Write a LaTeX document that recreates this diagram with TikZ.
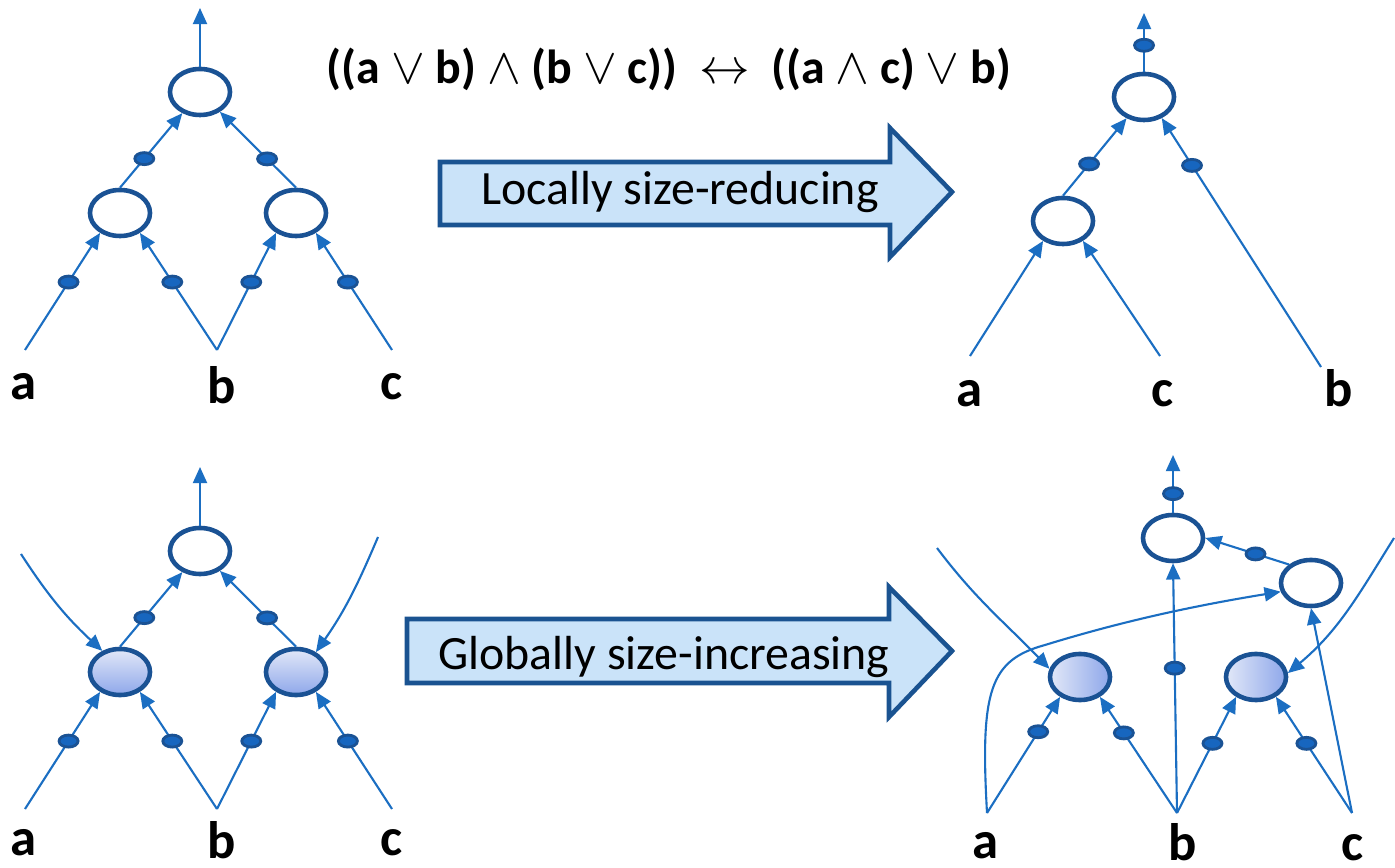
\documentclass[tikz,border=0pt]{standalone}
\usepackage{fontspec}
\setmainfont{Carlito}
\usepackage{tikz}
\usetikzlibrary{shapes.geometric,arrows.meta}
\definecolor{WireBlue}{HTML}{1B6EC2}
\definecolor{GateRim}{HTML}{1A5294}
\definecolor{DotBlue}{HTML}{1766BF}
\definecolor{BoxFill}{HTML}{CAE3F9}
\definecolor{BoxRim}{HTML}{1A5391}
\definecolor{ShadeLo}{HTML}{8EA7EA}
\definecolor{ShadeHi}{HTML}{E2E8F8}

\begin{document}
\begin{tikzpicture}[x=0.01cm,y=-0.01cm,>={Triangle[length=4.6pt,width=4pt]}]
  \tikzstyle{gate}=[ellipse,draw=GateRim,line width=1.3pt,fill=white,
    minimum width=6mm,minimum height=4.6mm,inner sep=0pt]
  \tikzstyle{vgate}=[gate,top color=ShadeHi,bottom color=ShadeLo]
  \tikzstyle{hgate}=[gate,left color=ShadeHi,right color=ShadeLo]
  \tikzstyle{bead}=[ellipse,draw=GateRim,line width=0.8pt,fill=DotBlue,
    minimum width=1.9mm,minimum height=1.2mm,inner sep=0pt]
  \tikzstyle{wire}=[->,color=WireBlue,line width=0.6pt]
  \tikzstyle{varlabel}=[font=\fontsize{15}{18}\selectfont\bfseries,anchor=base,inner sep=0pt]
  \tikzstyle{bigarrow}=[draw=BoxRim,fill=BoxFill,line width=1.3pt]
  \tikzstyle{arrowtext}=[font=\fontsize{13.6}{16}\selectfont,anchor=base,inner sep=0pt]
  \useasboundingbox (0,0) rectangle (1395,868);

  % equivalence
  \node[font=\fontsize{13.6}{16}\selectfont\bfseries,anchor=base] (law) at (669,84)
    {((a $\vee$ b) $\wedge$ (b $\vee$ c))~ $\leftrightarrow$~ ((a $\wedge$ c) $\vee$ b)};

  % top left
  \node[gate] (t1) at (200,92) {};
  \node[gate] (l1) at (120,213) {};
  \node[gate] (r1) at (296,213) {};
  \coordinate (o1) at (200,8);
  \coordinate (a1) at (25,350);
  \coordinate (b1) at (217,350);
  \coordinate (c1) at (392,350);
  \draw[wire] (t1.north) -- (o1);
  \draw[wire] (l1.north) -- node[bead,pos=0.39]{} (t1);
  \draw[wire] (r1.north) -- node[bead,pos=0.38]{} (t1);
  \draw[wire] (a1) -- node[bead,pos=0.58]{} (l1.225);
  \draw[wire] (b1) -- node[bead,pos=0.58]{} (l1.-45);
  \draw[wire] (b1) -- node[bead,pos=0.58]{} (r1.225);
  \draw[wire] (c1) -- node[bead,pos=0.58]{} (r1.-45);
  \node[varlabel] (la1) at (24,400) {a};
  \node[varlabel] (lb1) at (222,404) {b};
  \node[varlabel] (lc1) at (392,400) {c};

  % top right
  \node[gate] (t2) at (1144,97) {};
  \node[gate] (l2) at (1063,221) {};
  \coordinate (o2) at (1144,13);
  \coordinate (a2) at (970,356);
  \coordinate (c2) at (1160,356);
  \coordinate (b2) at (1321,367);
  \draw[wire] (t2.north) -- node[bead,pos=0.45]{} (o2);
  \draw[wire] (l2.north) -- node[bead,pos=0.41]{} (t2);
  \draw[wire] (b2) -- node[bead,pos=0.81]{} (t2.-50);
  \draw[wire] (a2) -- (l2.225);
  \draw[wire] (c2) -- (l2.-45);
  \node[varlabel] (la2) at (969,407) {a};
  \node[varlabel] (lc2) at (1163,407) {c};
  \node[varlabel] (lb2) at (1339,407) {b};

  % bottom left
  \node[gate] (t3) at (200,551) {};
  \node[vgate] (l3) at (120,672) {};
  \node[vgate] (r3) at (296,672) {};
  \coordinate (o3) at (200,467);
  \coordinate (a3) at (25,809);
  \coordinate (b3) at (217,809);
  \coordinate (c3) at (392,809);
  \coordinate (s3l) at (21,554);
  \coordinate (s3r) at (378,537);
  \draw[wire] (t3.north) -- (o3);
  \draw[wire] (l3.north) -- node[bead,pos=0.39]{} (t3);
  \draw[wire] (r3.north) -- node[bead,pos=0.38]{} (t3);
  \draw[wire] (a3) -- node[bead,pos=0.58]{} (l3.225);
  \draw[wire] (b3) -- node[bead,pos=0.58]{} (l3.-45);
  \draw[wire] (b3) -- node[bead,pos=0.58]{} (r3.225);
  \draw[wire] (c3) -- node[bead,pos=0.58]{} (r3.-45);
  \draw[wire] (s3l) to[out=-57,in=137] (l3.130);
  \draw[wire] (s3r) to[out=-113,in=55] (r3.45);
  \node[varlabel] (la3) at (24,855) {a};
  \node[varlabel] (lb3) at (222,858) {b};
  \node[varlabel] (lc3) at (392,855) {c};

  % bottom right
  \node[gate] (t4) at (1173,538) {};
  \node[gate] (r4) at (1311,583) {};
  \node[hgate] (l4) at (1080,677) {};
  \node[hgate] (m4) at (1256,677) {};
  \coordinate (o4) at (1173,455);
  \coordinate (a4) at (987,813);
  \coordinate (b4) at (1177,813);
  \coordinate (c4) at (1352,813);
  \coordinate (bend4) at (1045,645);
  \coordinate (s4l) at (937,548);
  \coordinate (s4r) at (1394,538);
  \draw[wire] (t4.north) -- node[bead,pos=0.33]{} (o4);
  \draw[wire] (r4.140) -- node[bead,pos=0.4]{} (t4.east);
  \draw[wire] (a4) -- node[bead,pos=0.7]{} (l4.225);
  \draw[wire] (b4) -- node[bead,pos=0.69]{} (l4.-45);
  \draw[wire] (b4) -- node[bead,pos=0.58]{} (t4.south);
  \draw[wire] (b4) -- node[bead,pos=0.6]{} (m4.225);
  \draw[wire] (c4) -- node[bead,pos=0.6]{} (m4.-45);
  \draw[wire] (c4) -- (r4.south);
  \draw[wire] (a4) .. controls (980,690) and (990,660) .. (bend4)
    .. controls (1110,625) and (1180,608) .. (r4.196);
  \draw[wire] (s4l) to[out=-53,in=134] (l4.165);
  \draw[wire] (s4r) to[out=-122,in=40] (m4.7);
  \node[varlabel] (la4) at (985,858) {a};
  \node[varlabel] (lb4) at (1183,860) {b};
  \node[varlabel] (lc4) at (1353,860) {c};

  % transformation arrows
  \draw[bigarrow] (440,162) -- (890,162) -- (890,128) -- (952,192) -- (890,257)
    -- (890,225) -- (440,225) -- cycle;
  \node[arrowtext] (locally) at (680,205) {Locally size-reducing};
  \draw[bigarrow] (407,619) -- (889,619) -- (889,587) -- (952,651) -- (889,717)
    -- (889,683) -- (407,683) -- cycle;
  \node[arrowtext] (globally) at (664,670) {Globally size-increasing};
\end{tikzpicture}
\end{document}
